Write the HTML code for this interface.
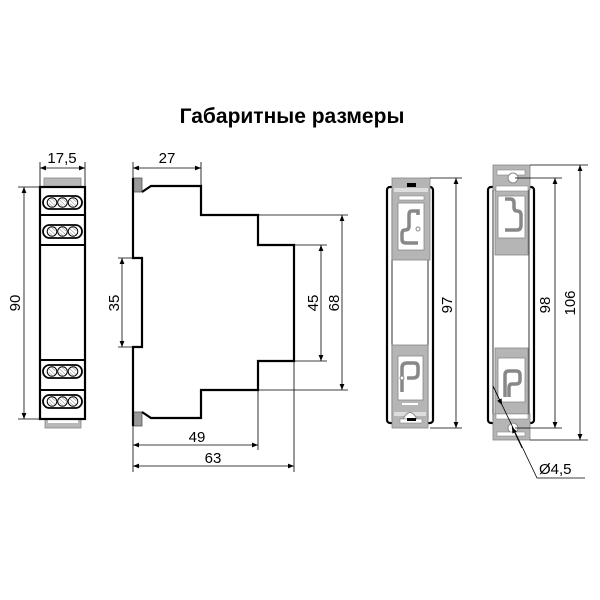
<!DOCTYPE html>
<html><head><meta charset="utf-8"><style>
html,body{margin:0;padding:0;background:#fff;}
svg{display:block;}
text{font-family:"Liberation Sans",sans-serif;fill:#000;}
</style></head><body>
<svg width="600" height="600" viewBox="0 0 600 600" xmlns="http://www.w3.org/2000/svg">
<defs>
<marker id="a" viewBox="0 0 10 10" refX="10" refY="5" markerWidth="9" markerHeight="6" orient="auto-start-reverse" markerUnits="userSpaceOnUse"><path d="M0,1 L10,5 L0,9 z" fill="#000"/></marker>
<g id="term">
<rect x="43" y="0" width="39" height="13" rx="6.5" fill="#fff" stroke="#000" stroke-width="1.8"/>
<g fill="#fff" stroke="#000" stroke-width="1">
<circle cx="52" cy="6.5" r="4.8"/><circle cx="62.5" cy="6.5" r="4.8"/><circle cx="73" cy="6.5" r="4.8"/></g>
<g stroke="#666" stroke-width="0.5">
<path d="M49,4 L55,9.5 M49,7.5 L52.5,10.5 M51.5,2.5 L55.5,6"/>
<path d="M59.5,4 L65.5,9.5 M59.5,7.5 L63,10.5 M62,2.5 L66,6"/>
<path d="M70,4 L76,9.5 M70,7.5 L73.5,10.5 M72.5,2.5 L76.5,6"/></g>
</g>
</defs>

<text x="292" y="123" font-size="21" font-weight="bold" text-anchor="middle">Габаритные размеры</text>

<!-- front view -->
<rect x="44" y="178" width="37" height="9" fill="#b8b8b8" stroke="#888" stroke-width="0.8"/>
<rect x="45" y="419" width="36" height="9" fill="#b8b8b8" stroke="#888" stroke-width="0.8"/>
<rect x="48" y="420" width="30" height="3" fill="#fff"/>
<rect x="40" y="187" width="45" height="232" fill="#fff" stroke="#000" stroke-width="2.2"/>
<path d="M40,215 H85 M40,245 H85 M40,360 H85 M40,390 H85" stroke="#000" stroke-width="2"/>
<use href="#term" y="196"/><use href="#term" y="225"/><use href="#term" y="365"/><use href="#term" y="395"/>
<g stroke="#000" stroke-width="0.8" fill="none">
<path d="M40,162 V186 M85,162 V186"/>
<path d="M40,168 H85" marker-start="url(#a)" marker-end="url(#a)"/>
<path d="M18,187 H40 M18,419 H40"/>
<path d="M24,187 V419" marker-start="url(#a)" marker-end="url(#a)"/>
</g>
<text x="62" y="163" font-size="15" text-anchor="middle">17,5</text>
<text transform="translate(20,303) rotate(-90)" font-size="15" text-anchor="middle">90</text>

<!-- side view -->
<rect x="133" y="178" width="9" height="14" fill="#999" stroke="#555" stroke-width="0.8"/>
<rect x="133" y="412" width="9" height="14" fill="#999" stroke="#555" stroke-width="0.8"/>
<path d="M133,178 V258 H142 V347 H133 V426 M142,192 L151,186 H201 V215 H258 V245 H294 V361 H258 V390 H201 V418 H151 L142,412 M136,258 H142 M136,347 H142" fill="none" stroke="#000" stroke-width="2.2"/>
<g stroke="#000" stroke-width="0.8" fill="none">
<path d="M133,162 V178 M201,162 V186"/>
<path d="M133,168 H201" marker-start="url(#a)" marker-end="url(#a)"/>
<path d="M118,258 H133 M118,347 H133"/>
<path d="M122,258 V347" marker-start="url(#a)" marker-end="url(#a)"/>
<path d="M294,245 H327 M294,361 H327"/>
<path d="M321,245 V361" marker-start="url(#a)" marker-end="url(#a)"/>
<path d="M258,215 H348 M258,390 H348"/>
<path d="M342,215 V390" marker-start="url(#a)" marker-end="url(#a)"/>
<path d="M133,426 V472 M258,390 V450 M294,361 V472"/>
<path d="M133,445 H258" marker-start="url(#a)" marker-end="url(#a)"/>
<path d="M133,466 H294" marker-start="url(#a)" marker-end="url(#a)"/>
</g>
<text x="167" y="163" font-size="15" text-anchor="middle">27</text>
<text transform="translate(119,303) rotate(-90)" font-size="15" text-anchor="middle">35</text>
<text transform="translate(318,303) rotate(-90)" font-size="15" text-anchor="middle">45</text>
<text transform="translate(339,303) rotate(-90)" font-size="15" text-anchor="middle">68</text>
<text x="197" y="442" font-size="15" text-anchor="middle">49</text>
<text x="213" y="463" font-size="15" text-anchor="middle">63</text>

<!-- view 3 -->
<rect x="387" y="187" width="46" height="236" rx="3" fill="#fff" stroke="#000" stroke-width="2.2"/>
<path d="M392,190 V420 M428,190 V420" stroke="#000" stroke-width="0.8"/>
<!-- top clip -->
<rect x="392" y="178" width="38" height="82" fill="#b5b5b5" stroke="#888" stroke-width="0.8"/>
<rect x="398" y="203" width="26" height="47" fill="#fff" stroke="#888" stroke-width="0.8"/>
<rect x="399" y="196" width="25" height="4" fill="#fff" stroke="#888" stroke-width="0.6"/>
<rect x="394" y="188" width="34" height="4" fill="#ddd"/>
<rect x="407" y="183" width="9" height="4" fill="#000"/>
<path d="M418,215 L418,211 L412,211 Q409,211 409,215 L409,226 Q409,230 405,230 Q402,230 402,234 L402,239 Q402,243 406,243 L418,243" fill="none" stroke="#888" stroke-width="3.5"/>
<circle cx="418" cy="229" r="2" fill="#fff" stroke="#888"/>
<!-- bottom clip -->
<rect x="392" y="345" width="36" height="83" fill="#b5b5b5" stroke="#888" stroke-width="0.8"/>
<rect x="398" y="356" width="25" height="44" fill="#fff" stroke="#888" stroke-width="0.8"/>
<rect x="394" y="412" width="32" height="4" fill="#ddd"/>
<path d="M402,392 L402,368 Q402,363 407,363 L414,363 Q418,363 418,367 L418,373 Q418,378 413,378 L407,378" fill="none" stroke="#888" stroke-width="3.5"/>
<circle cx="402" cy="378" r="2" fill="#fff" stroke="#888"/>
<path d="M402,404 H418" stroke="#fff" stroke-width="2"/>
<path d="M403,419 Q410,406 417,419 Z" fill="#fff" stroke="#888"/>
<rect x="400" y="419" width="22" height="4" fill="#fff" stroke="#888" stroke-width="0.6"/>
<rect x="407" y="418" width="9" height="3" fill="#000"/>
<g stroke="#000" stroke-width="0.8" fill="none">
<path d="M430,178 H462 M430,428 H462"/>
<path d="M456,178 V428" marker-start="url(#a)" marker-end="url(#a)"/>
</g>
<text transform="translate(452,305) rotate(-90)" font-size="15" text-anchor="middle">97</text>

<!-- view 4 -->
<rect x="488" y="187" width="46" height="236" rx="3" fill="#fff" stroke="#000" stroke-width="2.2"/>
<path d="M493,190 V420 M529,190 V420" stroke="#000" stroke-width="0.8"/>
<!-- top clip -->
<rect x="493" y="165" width="37" height="25" fill="#b5b5b5" stroke="#888" stroke-width="0.8"/>
<rect x="497" y="170" width="28" height="5" fill="#fff" stroke="#888" stroke-width="0.6"/>
<circle cx="513" cy="178" r="5" fill="#fff" stroke="#888"/>
<rect x="495" y="190" width="33" height="65" fill="#b5b5b5" stroke="#888" stroke-width="0.8"/>
<rect x="496" y="186" width="32" height="5" fill="#fff" stroke="#888" stroke-width="0.6"/>
<rect x="498" y="196" width="27" height="42" fill="#fff" stroke="#888" stroke-width="0.8"/>
<path d="M505,230 L517,230 Q521,230 521,225 L521,215 Q521,211 517,211 Q514,211 514,207 L514,203 Q514,199 510,199 L505,199" fill="none" stroke="#888" stroke-width="3.5"/>
<!-- bottom clip -->
<rect x="495" y="348" width="33" height="66" fill="#b5b5b5" stroke="#888" stroke-width="0.8"/>
<rect x="498" y="358" width="27" height="44" fill="#fff" stroke="#888" stroke-width="0.8"/>
<path d="M505,397 L505,375 Q505,371 509,371 L516,371 Q520,371 520,375 L520,380 Q520,384 516,384 L512,384 Q509,384 509,388 L509,397" fill="none" stroke="#888" stroke-width="3.5"/>
<rect x="493" y="414" width="37" height="26" fill="#b5b5b5" stroke="#888" stroke-width="0.8"/>
<rect x="496" y="414" width="32" height="5" fill="#fff" stroke="#888" stroke-width="0.6"/>
<circle cx="513" cy="428" r="5" fill="#fff" stroke="#888"/>
<rect x="497" y="432" width="28" height="4" fill="#fff" stroke="#888" stroke-width="0.6"/>
<g stroke="#000" stroke-width="0.8" fill="none">
<path d="M515,178 H562 M515,428 H562 M530,165 H588 M530,440 H588"/>
<path d="M555,178 V428" marker-start="url(#a)" marker-end="url(#a)"/>
<path d="M580,165 V440" marker-start="url(#a)" marker-end="url(#a)"/>
<path d="M493,386 L537,478 H585"/>
<path d="M493,386 L502,405" marker-end="url(#a)"/>
<path d="M522,448 L512,427" marker-end="url(#a)"/>
</g>
<text transform="translate(550,305) rotate(-90)" font-size="15" text-anchor="middle">98</text>
<text transform="translate(575,303) rotate(-90)" font-size="15" text-anchor="middle">106</text>
<text x="539" y="474" font-size="15">Ø4,5</text>
</svg>
</body></html>
